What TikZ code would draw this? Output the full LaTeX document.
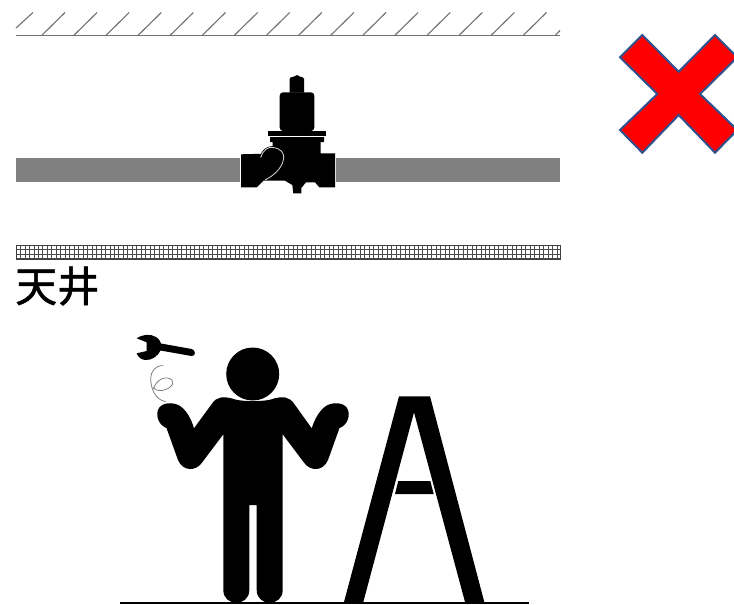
\documentclass[tikz,border=0pt]{standalone}
\usepackage{fontspec}
\newfontfamily\jpfont[FakeBold=1.2]{Noto Sans CJK JP}
\definecolor{pipegray}{HTML}{808080}
\definecolor{xedge}{HTML}{2F528F}
\tikzset{
  hatchline/.style={draw=black!55,line width=0.85pt},
  pipe/.style={fill=pipegray,draw=none},
  ink/.style={fill=black,draw=none},
  hairline/.style={draw=black!50,line width=0.6pt},
  whiteline/.style={draw=white!85!black,line width=0.6pt}
}
\begin{document}
\begin{tikzpicture}[x=0.75pt,y=-0.75pt]
\useasboundingbox (0,0) rectangle (734,604);
% ceiling hatch
\draw[hatchline,line width=1.2pt] (16,35.6) -- (560,35.6);
\draw[hatchline] (16,28) -- (33,12.5);
\foreach \i in {0,...,15} {
  \draw[hatchline] ({41.5+32.1*\i},35.6) -- ({65+32.1*\i},12.5);
}
\draw[hatchline] (555,35.6) -- (560,30.5);
% pipes
\fill[pipe] (16,157.8) rectangle (239.6,181.8);
\fill[pipe] (336,157.8) rectangle (560,181.8);
% valve
\fill[ink] (289.6,92.5) -- (289.6,79) -- (290.5,77.5) -- (294,76.5) -- (297,75) -- (300,76.5) -- (303,77.5) -- (304,79) -- (304,92.5) -- cycle;
\fill[ink,rounded corners=2.5pt] (279.7,131) -- (279.7,92.3) -- (314.3,92.3) -- (314.3,131) -- cycle;
\fill[ink] (268,130.7) rectangle (326,136);
\fill[ink] (270,137.2) -- (324,137.2) -- (324,142) -- (320.7,142) -- (320.7,153.3) -- (335,153.3)
  -- (335,187.3) -- (319.3,187.3) -- (315,182.3) -- (306,182.3) -- (301.3,188) -- (301.3,193.3) -- (293.3,193.3)
  -- (292.3,185) -- (285,180.7) -- (263.3,180.7) -- (256.7,187.3) -- (241,187.3) -- (241,154.3) -- (261,153.8)
  .. controls (263,149) and (267,146.5) .. (272.7,146) -- (272.7,142) -- (270,142) -- cycle;
\draw[whiteline] (260.7,157.7) .. controls (263,150) and (268,146.5) .. (273,147.5)
  .. controls (281,148.5) and (285,153) .. (283.3,160) .. controls (281.5,169) and (273,176) .. (265,180);
% ceiling band
\begin{scope}
\clip (16,245) rectangle (560,259);
\foreach \i in {0,...,121} {
  \draw[black!70,line width=0.5pt] ({16+4.47*\i},245) -- ({16+4.47*\i},259);
}
\foreach \j in {0,...,3} {
  \draw[black!70,line width=0.5pt] (16,{245.2+4.5*\j}) -- (560,{245.2+4.5*\j});
}
\end{scope}
\draw[black!75,line width=0.6pt] (16,245.2) rectangle (560,259);
% label
\node[anchor=west,inner sep=0pt,font=\jpfont\fontsize{31.5pt}{31.5pt}\selectfont] (ceilinglabel) at (15,286) {天井};
% X mark
\begin{scope}
\clip (0,0) rectangle (734,604);
\draw[fill=red,draw=xedge,line width=1.5pt,line join=miter] (642.3,35) -- (678.7,71.7) -- (715,35) -- (737.3,57.3) -- (700,94) -- (737.3,130) -- (715,152.7) -- (678.7,115) -- (642.3,152.7) -- (620,130) -- (657.3,94) -- (620,57.3) -- cycle;
\end{scope}
% person
\fill[ink] (252.7,374) circle (26.5);
\fill[ink] (223.3,590) -- (223.3,434.3) -- (201.7,463)
  .. controls (196,471) and (183,472) .. (178,460)
  -- (166.5,428) .. controls (158,425) and (155,414) .. (159,408)
  .. controls (163,402) and (174,402) .. (180,406) .. controls (186,410) and (191,418) .. (194,428.3)
  -- (211.7,404) .. controls (217,396) and (224,396.5) .. (232,398.5)
  .. controls (240,402) and (266,402) .. (274,398.5)
  .. controls (282,396.5) and (289,396) .. (294.3,404)
  -- (311.7,428.3) .. controls (315,418) and (320,410) .. (326,406) .. controls (332,402) and (343,402) .. (347,408)
  .. controls (351,414) and (348,425) .. (339.5,428)
  -- (328,460) .. controls (323,472) and (310,471) .. (304.3,463)
  -- (282.7,434.3) -- (282.7,590)
  .. controls (282.7,607) and (256.7,607) .. (256.7,590)
  -- (256.7,505) -- (249.3,505) -- (249.3,590)
  .. controls (249.3,607) and (223.3,607) .. (223.3,590) -- cycle;
% wrench
\fill[ink] (136.7,338.3) .. controls (141,335) and (150,333) .. (156,337) .. controls (159,339) and (160.5,341.5) .. (161,343.5)
  -- (191.7,349) .. controls (196,350) and (196,356.5) .. (191.5,356) -- (160.5,350.5)
  .. controls (158,356) and (152,360.5) .. (145,360) .. controls (141,359.5) and (138,357) .. (136.7,353.3)
  -- (146.7,351) -- (146.7,342.3) -- cycle;
% curl
\draw[hairline] (163.3,365.7) .. controls (155,365) and (150.7,372) .. (150.7,378.3)
  .. controls (150.7,388) and (155,400) .. (165.7,401.5);
\draw[hairline] (153.5,389) .. controls (156,379) and (167,375) .. (172,380) .. controls (176,384) and (167,391) .. (160,390.5) .. controls (156,390.3) and (154,389.5) .. (153.5,387);
% ladder
\fill[ink] (399,396.3) -- (430,396.3) -- (484.3,602) -- (465,602) -- (414,412.3) -- (363.3,602) -- (344,602) -- cycle;
\fill[ink] (398.3,481) -- (430.3,481) -- (433.7,494) -- (395,494) -- cycle;
% floor
\draw[black,line width=1.5pt] (120,603) -- (529,603);
\end{tikzpicture}
\end{document}
